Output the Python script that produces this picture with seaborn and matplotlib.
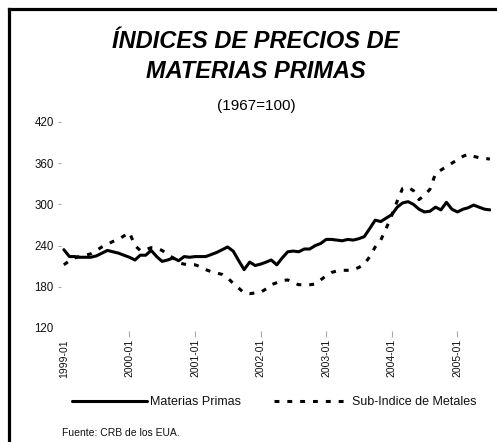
import numpy as np
import pandas as pd
import matplotlib
matplotlib.use("Agg")
import matplotlib.pyplot as plt
from matplotlib.lines import Line2D
import seaborn as sns

# ---------------- data ----------------
start_month = "1999-01"
materias_primas = [
    234, 224, 224, 223, 223, 223, 225, 229, 233, 231, 229, 226,
    223, 219, 226, 226, 233, 224, 217, 219, 222, 218, 224, 223,
    224, 224, 224, 227, 230, 234, 238, 232, 218, 205, 216, 211,
    213, 216, 219, 212, 222, 231, 232, 231, 235, 235, 240, 243,
    249, 249, 248, 247, 249, 248, 250, 253, 265, 277, 275, 280,
    285, 296, 302, 304, 300, 293, 289, 290, 296, 292, 303, 293,
    289, 293, 295, 299, 296, 293, 292,
]
metales = [
    212, 218, 222, 224, 226, 228, 233, 238, 242, 246, 249, 254,
    259, 240, 233, 234, 237, 236, 233, 227, 222, 215, 213, 212,
    212, 209, 205, 202, 200, 198, 193, 185, 178, 171, 170, 171,
    172, 177, 183, 186, 189, 190, 186, 183, 183, 183, 184, 190,
    196, 201, 203, 204, 204, 205, 208, 213, 224, 238, 248, 265,
    284, 305, 323, 325, 320, 307, 313, 322, 345, 350, 355, 360,
    365, 370, 373, 370, 368, 367, 366,
]
series_names = ["Materias Primas", "Sub-Indice de Metales"]
x_tick_labels = ["1999-01", "2000-01", "2001-01", "2002-01",
                 "2003-01", "2004-01", "2005-01"]
y_ticks = [120, 180, 240, 300, 360, 420]
title_lines = ["ÍNDICES DE PRECIOS DE", "MATERIAS PRIMAS"]
subtitle = "(1967=100)"
source = "Fuente: CRB de los EUA."

# ---------------- style ----------------
sns.set_theme(style="white")
plt.rcParams['font.family'] = ['Liberation Sans', 'DejaVu Sans']
plt.rcParams['text.color'] = 'black'
plt.rcParams['xtick.color'] = 'black'
plt.rcParams['ytick.color'] = 'black'

W, H = 497, 442
dates = pd.date_range(start_month, periods=len(materias_primas), freq="MS")
df = pd.DataFrame({"fecha": dates,
                   series_names[0]: materias_primas,
                   series_names[1]: metales})
long_df = df.melt("fecha", var_name="serie", value_name="indice")

fig = plt.figure(figsize=(W / 100, H / 100), dpi=100)
fig.patch.set_facecolor("white")
ax = fig.add_axes([61 / W, 1 - 331 / H, (491 - 61) / W, (331 - 122) / H])

lw = 2.2
dash_pat = (1.6, 2.6)
sns.lineplot(data=long_df, x="fecha", y="indice", style="serie",
             style_order=series_names,
             dashes={series_names[0]: "", series_names[1]: dash_pat},
             color="black", linewidth=lw, ax=ax, legend=False)

ax.set_xlim(dates[0] - pd.Timedelta(days=16), dates[-1] + pd.Timedelta(days=6))
ax.set_ylim(115.6, 420)
ax.set_yticks(y_ticks)
ax.set_yticklabels([str(v) for v in y_ticks], fontsize=8.3, color="#111111")
ax.set_xticks(pd.to_datetime(x_tick_labels))
ax.set_xticklabels(x_tick_labels, rotation=90, fontsize=7.5, color="#111111")
ax.set_xlabel("")
ax.set_ylabel("")
for s in ax.spines.values():
    s.set_visible(False)
ax.grid(False)
ax.tick_params(axis="x", length=4.3, width=0.8, color="#aaaaaa", pad=1.5,
               bottom=True)
ax.tick_params(axis="y", length=2.2, width=0.8, color="#aaaaaa", pad=3,
               left=True)
ax.xaxis.get_major_ticks()[0].tick1line.set_visible(False)
ax.yaxis.get_major_ticks()[0].tick1line.set_visible(False)

# ---------------- titles ----------------
cx = 256 / W
fig.text(cx, 1 - 48 / H, title_lines[0], ha="center", va="baseline",
         fontsize=17, fontweight="bold", fontstyle="italic", color="black")
fig.text(cx, 1 - 78 / H, title_lines[1], ha="center", va="baseline",
         fontsize=17, fontweight="bold", fontstyle="italic", color="black")
fig.text(cx, 1 - 110 / H, subtitle, ha="center", va="baseline", fontsize=11,
         color="black")

# ---------------- legend ----------------
handles = [Line2D([], [], color="black", lw=lw),
           Line2D([], [], color="black", lw=lw, dashes=dash_pat)]
leg = fig.legend(handles, series_names, loc="center left",
                 bbox_to_anchor=(72 / W, 1 - 402 / H), ncol=2, frameon=False,
                 handlelength=6.0, handletextpad=0.25, columnspacing=2.6,
                 fontsize=9, borderpad=0, borderaxespad=0)
for t in leg.get_texts():
    t.set_color("#111111")

fig.text(62 / W, 1 - 433 / H, source, ha="left", va="center", fontsize=7.5,
         color="#111111")

# ---------------- frame ----------------
fig.add_artist(Line2D([9 / W, 9 / W], [0, 1 - 9 / H], transform=fig.transFigure,
                      color="black", lw=2.3, solid_capstyle="projecting"))
fig.add_artist(Line2D([9 / W, 1], [1 - 9 / H, 1 - 9 / H], transform=fig.transFigure,
                      color="black", lw=2.3, solid_capstyle="projecting"))

fig.savefig("out.png", dpi=100, facecolor="white")
